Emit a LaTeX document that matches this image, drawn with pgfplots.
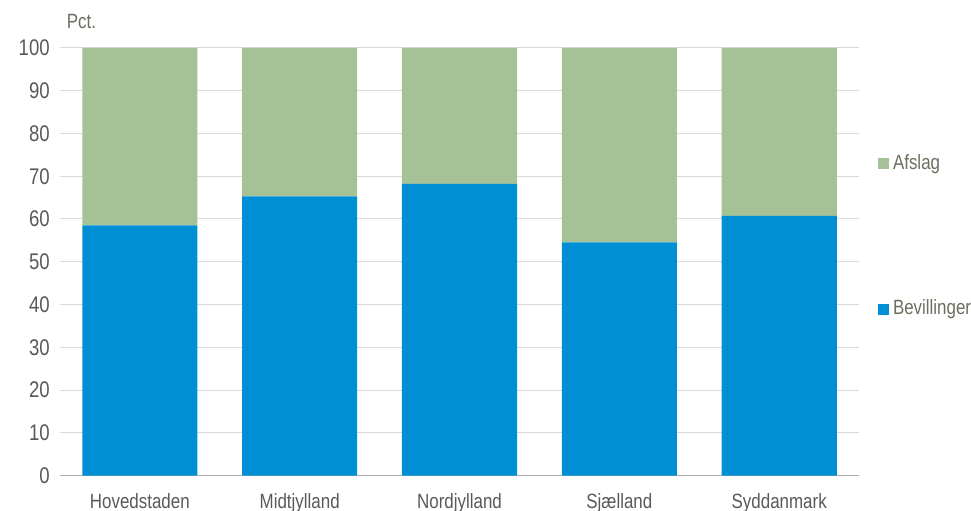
\documentclass[border=0pt]{standalone}
\usepackage{fontspec}
\setmainfont{Liberation Sans}[FakeStretch=0.82]
\usepackage{pgfplots}
\pgfplotsset{compat=1.18}

\definecolor{bev}{HTML}{008FD5}
\definecolor{afs}{HTML}{A5C297}
\definecolor{tick}{HTML}{595959}
\definecolor{leg}{HTML}{6E6E60}
\definecolor{gridc}{HTML}{DADADA}

\begin{document}
\begin{tikzpicture}
\begin{axis}[
    scale only axis,
    width=600pt, height=321pt,
    clip=false,
    ybar stacked,
    bar width=0.72,
    xmin=-0.5, xmax=4.5,
    ymin=0, ymax=100,
    ytick={0,10,...,100},
    xtick={0,1,2,3,4},
    xticklabels={Hovedstaden,Midtjylland,Nordjylland,Sjælland,Syddanmark},
    major tick length=0pt,
    axis x line*=bottom,
    axis y line*=left,
    y axis line style={draw=none},
    x axis line style={draw=gridc!80!black, line width=0.9pt},
    ymajorgrids,
    grid style={draw=gridc, line width=0.75pt},
    /pgf/number format/assume math mode=true,
    tick label style={text=tick},
    yticklabel style={anchor=east, inner sep=0pt, xshift=-7.5pt, font=\fontsize{17}{20}\selectfont},
    xticklabel style={anchor=north, inner sep=0pt, yshift=-13pt, font=\fontsize{15.5}{18}\selectfont},
    reverse legend,
    legend style={draw=none, fill=none, at={(rel axis cs:1,0.76)}, anchor=north west,
        xshift=11pt, row sep=93pt, column sep=3pt,
        font=\fontsize{15.5}{18}\selectfont, text=leg,
        nodes={inner sep=0pt, text height=12pt, text depth=4pt}},
    legend cell align=left,
]
\addplot[fill=bev, draw=none,
    legend image code/.code={\fill[bev] (0pt,-4pt) rectangle (8.25pt,4.25pt);}]
    coordinates {(0,58.5) (1,65.3) (2,68.2) (3,54.5) (4,60.7)};
\addplot[fill=afs, draw=none,
    legend image code/.code={\fill[afs] (0pt,-4pt) rectangle (8.25pt,4.25pt);}]
    coordinates {(0,41.5) (1,34.7) (2,31.8) (3,45.5) (4,39.3)};
\legend{Bevillinger,Afslag}
\coordinate (o) at (rel axis cs:0,0);
\coordinate (t) at (rel axis cs:1,1);
\node[anchor=base west, inner sep=0pt, text=leg, font=\fontsize{15.5}{18}\selectfont]
    at ([shift={(5pt,14.25pt)}]rel axis cs:0,1) {Pct.};
\end{axis}
\pgfresetboundingbox
\path[use as bounding box] ([shift={(-45pt,-26.25pt)}]o) rectangle ([shift={(84pt,36pt)}]t);
\end{tikzpicture}
\end{document}
